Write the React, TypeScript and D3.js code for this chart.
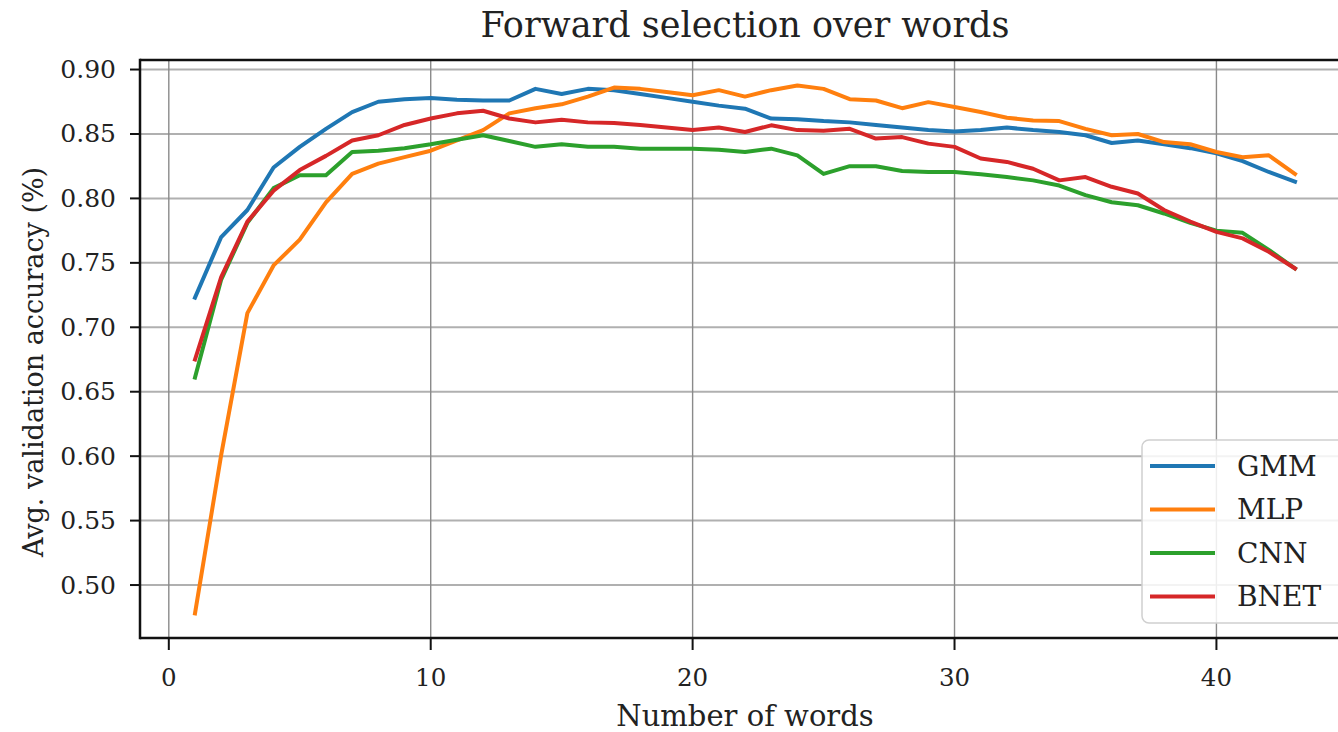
import React from "react";
import * as d3 from "d3";

// number of words selected (1..43)
const words = d3.range(1, 44);

const gmm = [0.723, 0.770, 0.791, 0.824, 0.840, 0.854, 0.867, 0.875, 0.877, 0.878,
  0.8765, 0.876, 0.876, 0.885, 0.881, 0.885, 0.884, 0.881, 0.878, 0.875,
  0.872, 0.8696, 0.862, 0.8615, 0.860, 0.859, 0.857, 0.855, 0.853, 0.852,
  0.853, 0.855, 0.853, 0.8515, 0.849, 0.843, 0.845, 0.842, 0.839, 0.835,
  0.829, 0.8205, 0.813];
const mlp = [0.478, 0.601, 0.711, 0.748, 0.768, 0.797, 0.819, 0.827, 0.832, 0.837,
  0.845, 0.853, 0.866, 0.870, 0.873, 0.879, 0.886, 0.885, 0.8825, 0.880,
  0.884, 0.879, 0.884, 0.8876, 0.885, 0.877, 0.876, 0.870, 0.8747, 0.871,
  0.867, 0.8626, 0.8605, 0.860, 0.854, 0.849, 0.850, 0.8437, 0.842, 0.836,
  0.832, 0.8334, 0.819];
const cnn = [0.661, 0.737, 0.781, 0.808, 0.818, 0.818, 0.836, 0.837, 0.839, 0.842,
  0.8455, 0.849, 0.8445, 0.840, 0.842, 0.840, 0.840, 0.8385, 0.8385, 0.8385,
  0.8378, 0.836, 0.8386, 0.8334, 0.819, 0.825, 0.825, 0.8213, 0.8205, 0.8205,
  0.8187, 0.8166, 0.814, 0.810, 0.8025, 0.797, 0.7947, 0.7883, 0.781, 0.775,
  0.7733, 0.760, 0.7457];
const bnet = [0.675, 0.739, 0.782, 0.806, 0.822, 0.833, 0.845, 0.849, 0.857, 0.862,
  0.866, 0.868, 0.862, 0.859, 0.861, 0.859, 0.8585, 0.857, 0.855, 0.853,
  0.855, 0.8515, 0.8567, 0.853, 0.8525, 0.854, 0.8464, 0.8476, 0.8425, 0.840,
  0.831, 0.8283, 0.823, 0.814, 0.8166, 0.809, 0.8038, 0.791, 0.782, 0.774,
  0.769, 0.7586, 0.7457];

const seriesNames = ["GMM", "MLP", "CNN", "BNET"];
const seriesValues = [gmm, mlp, cnn, bnet];
const colors = ["#1f77b4", "#ff7f0e", "#2ca02c", "#d62728"];

const xTicks = [0, 10, 20, 30, 40];
const yTicks = [0.5, 0.55, 0.6, 0.65, 0.7, 0.75, 0.8, 0.85, 0.9];

const font = "'DejaVu Serif', serif";

export default function App() {
  const left = 140, right = 1350, top = 60, bottom = 638;

  const x = d3.scaleLinear().domain([-1.1, 45.1]).range([left, right]);
  const y = d3.scaleLinear().domain([0.4589, 0.9074]).range([bottom, top]);

  const line = d3.line<number>()
    .x((d, i) => x(words[i]))
    .y(d => y(d));

  return (
    <svg width={1338} height={732} style={{ position: "absolute", left: 0, top: 0, background: "#fff" }}>
      <text x={745} y={37} textAnchor="middle" fontFamily={font} fontSize={35} fill="#222">
        Forward selection over words
      </text>

      {/* grid */}
      {yTicks.map(t => (
        <line key={"gy" + t} x1={left} x2={right} y1={y(t)} y2={y(t)} stroke="#b0b0b0" strokeWidth={2} />
      ))}
      {xTicks.map(t => (
        <line key={"gx" + t} x1={x(t)} x2={x(t)} y1={top} y2={bottom} stroke="#8a8a8a" strokeWidth={1.4} />
      ))}

      {/* series */}
      {seriesValues.map((vals, i) => (
        <path key={seriesNames[i]} d={line(vals) || ""} fill="none" stroke={colors[i]}
          strokeWidth={4} strokeLinejoin="round" strokeLinecap="square" />
      ))}

      {/* spines */}
      <line x1={left} x2={right} y1={top} y2={top} stroke="#111" strokeWidth={2.5} />
      <line x1={left} x2={right} y1={bottom} y2={bottom} stroke="#111" strokeWidth={2.5} />
      <line x1={left} x2={left} y1={top - 1.25} y2={bottom + 1.25} stroke="#111" strokeWidth={2.5} />

      {/* y axis ticks */}
      {yTicks.map(t => (
        <g key={"yt" + t}>
          <line x1={left - 10} x2={left} y1={y(t)} y2={y(t)} stroke="#111" strokeWidth={2} />
          <text x={116} y={y(t)} textAnchor="end" dominantBaseline="central" fontFamily={font} fontSize={25} fill="#222">
            {d3.format(".2f")(t)}
          </text>
        </g>
      ))}

      {/* x axis ticks */}
      {xTicks.map(t => (
        <g key={"xt" + t}>
          <line x1={x(t)} x2={x(t)} y1={bottom} y2={bottom + 12} stroke="#111" strokeWidth={2} />
          <text x={x(t)} y={686} textAnchor="middle" fontFamily={font} fontSize={24.5} fill="#222">
            {t}
          </text>
        </g>
      ))}

      <text x={745} y={726} textAnchor="middle" fontFamily={font} fontSize={29} fill="#222">
        Number of words
      </text>
      <text transform="translate(43,362) rotate(-90)" textAnchor="middle" fontFamily={font} fontSize={27} fill="#222">
        Avg. validation accuracy (%)
      </text>

      {/* legend */}
      <rect x={1142} y={440} width={210} height={183} rx={7} fill="#fff" fillOpacity={0.85} stroke="#d0d0d0" strokeWidth={1.5} />
      {seriesNames.map((name, i) => {
        const ly = 466 + i * 43.5;
        return (
          <g key={"lg" + name}>
            <line x1={1150} x2={1215} y1={ly} y2={ly} stroke={colors[i]} strokeWidth={4} />
            <text x={1237} y={ly} dominantBaseline="central" fontFamily={font} fontSize={28} fill="#222">
              {name}
            </text>
          </g>
        );
      })}
    </svg>
  );
}
